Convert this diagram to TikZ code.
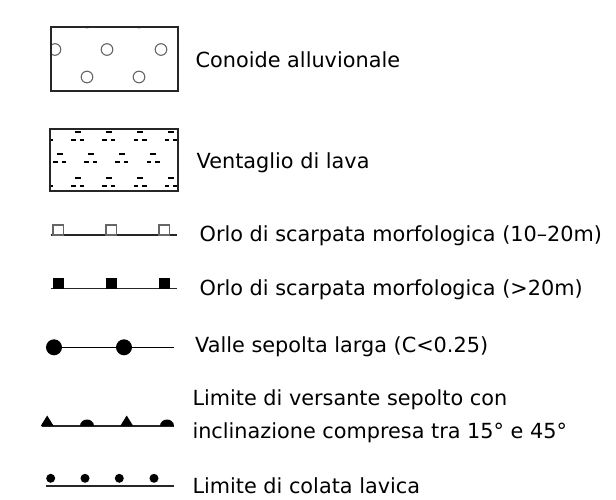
\documentclass[tikz,border=0pt]{standalone}
\usepackage{fontspec}
\setmainfont{DejaVu Sans}

\begin{document}
\begin{tikzpicture}[x=1pt, y=-1pt,
        legtext/.style={anchor=base west, inner sep=0pt, font=\fontsize{20.8}{33}\selectfont, align=left},
        border/.style={black!85, line width=1.3pt},
        baseline/.style={black!85, line width=1.5pt},
        ring/.style={black!60, line width=1.1pt},
        lavadash/.style={black, line width=2pt}]
        \useasboundingbox (0, 0) rectangle (616, 500);

        \begin{scope}
            \clip (51, 27) rectangle (178, 91);
            \foreach \x in {34, 87, 139, 192} {
                \draw [ring] (\x, 22) circle (5.8);
                \draw [ring] (\x, 77) circle (5.8);
            }
            \foreach \x in {55, 107, 161} \draw [ring] (\x, 49.5) circle (5.8);
        \end{scope}
        \draw [border] (51, 27) rectangle (178, 91);

        \begin{scope}
            \clip (50, 129) rectangle (178, 191);
            \foreach \y/\s in {131.7/46.5, 154.3/59.5, 178.3/46.5} {
                \foreach \k in {0, ..., 4} {
                    \pgfmathsetmacro{\x}{\s + 31.2*\k}
                    \draw [lavadash] (\x-3, \y) -- (\x+3, \y);
                    \draw [lavadash] (\x-6.5, \y+8) -- (\x-2, \y+8);
                    \draw [lavadash] (\x+2, \y+8) -- (\x+6.5, \y+8);
                }
            }
        \end{scope}
        \draw [border] (50, 129) rectangle (178, 191);

        \draw [baseline] (50.7, 235) -- (177.3, 235);
        \foreach \x in {53, 106, 159} \draw [black!60, line width=1.1pt] (\x, 235) rectangle (\x+10.5, 225);

        \draw [baseline] (50.7, 288.5) -- (177.3, 288.5);
        \foreach \x in {52.7, 105.7, 158.7} \fill [black] (\x, 288.5) rectangle (\x+11, 278);

        \draw [black, line width=1.4pt] (54, 347.3) -- (174, 347.3);
        \foreach \x in {54, 124} \fill [black] (\x, 347.3) circle (8);

        \draw [baseline] (41.7, 426) -- (174, 426);
        \foreach \x in {47.2, 126.7} \fill [black] (\x-6.5, 426) -- (\x, 415.5) -- (\x+6.5, 426) -- cycle;
        \foreach \x in {87, 167} \fill [black] (\x-7, 426) arc [start angle=180, end angle=0, x radius=7, y radius=-6.5] -- cycle;

        \draw [baseline] (46, 486) -- (174, 486);
        \foreach \x in {50.7, 85, 119.3, 154} \fill [black] (\x, 478.3) circle (4.5);

        \node [legtext] (conoide) at (195.5, 67.5) {Conoide alluvionale};
        \node [legtext] (ventaglio) at (196.5, 168) {Ventaglio di lava};
        \node [legtext] (orlomedio) at (199.5, 241.5) {Orlo di scarpata morfologica (10–20m)};
        \node [legtext] (orloalto) at (199.5, 295) {Orlo di scarpata morfologica (>20m)};
        \node [legtext] (valle) at (195, 352.5) {Valle sepolta larga (C<0.25)};
        \node [legtext, anchor=west] (versante) at (192.3, 416) {Limite di versante sepolto con\\inclinazione compresa tra 15° e 45°};
        \node [legtext] (colata) at (192.3, 493) {Limite di colata lavica};
\end{tikzpicture}
\end{document}
